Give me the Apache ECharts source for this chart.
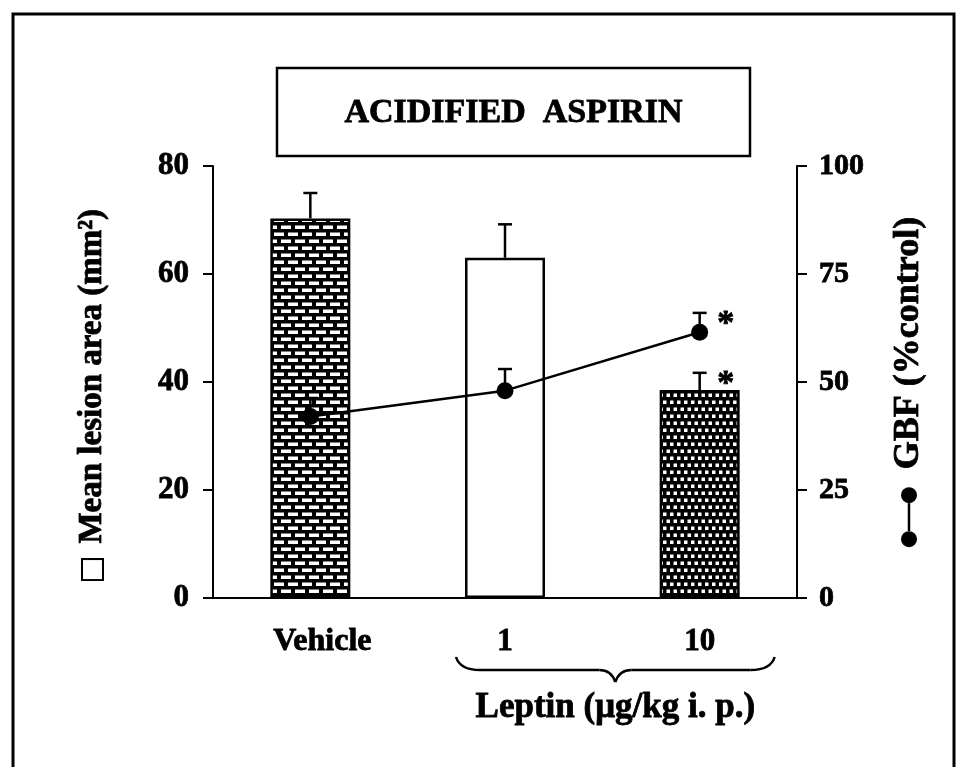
<!DOCTYPE html>
<html>
<head>
<meta charset="utf-8">
<script src="https://cdn.jsdelivr.net/npm/echarts@6/dist/echarts.min.js"></script>
<style>html,body{margin:0;padding:0;background:#fff;}#c{width:957px;height:767px;}</style>
</head>
<body>
<div id="c"></div>
<script>
const categories = ['Vehicle', '1', '10'];
const lesionArea = [70.3, 63.0, 38.5];
const lesionErr = [4.7, 6.2, 3.2];
const lesionSig = [false, false, true];
const gbf = [42, 48, 61.5];
const gbfErr = [4.3, 5, 4.5];
const gbfSig = [false, false, true];
const leftRange = {min: 0, max: 80, interval: 20};
const rightRange = {min: 0, max: 100, interval: 25};
const titleText = 'ACIDIFIED  ASPIRIN';
const groupLabel = 'Leptin (\u03bcg/kg i. p.)';

const FONT = '"Liberation Serif", "Times New Roman", serif';
const BOLDEN = {textBorderColor: '#000', textBorderWidth: 0.8};

function makeBrick() {
  const c = document.createElement('canvas'); c.width = 14; c.height = 14;
  const g = c.getContext('2d');
  g.fillStyle = '#000'; g.fillRect(0, 0, 14, 14);
  g.fillStyle = '#fff';
  g.fillRect(1, 1.5, 10, 3.5);
  g.fillRect(8, 8.5, 6, 3.5); g.fillRect(0, 8.5, 4, 3.5);
  return c;
}
function makeDots() {
  const c = document.createElement('canvas'); c.width = 14; c.height = 14;
  const g = c.getContext('2d');
  g.fillStyle = '#000'; g.fillRect(0, 0, 14, 14);
  g.fillStyle = '#fff';
  g.fillRect(1.5, 1.5, 3.5, 3.5); g.fillRect(8.5, 1.5, 3.5, 3.5);
  g.fillRect(5, 8.5, 3.5, 3.5); g.fillRect(12, 8.5, 2, 3.5); g.fillRect(0, 8.5, 1.5, 3.5);
  return c;
}
const fills = [
  {image: makeBrick(), repeat: 'repeat'},
  '#fff',
  {image: makeDots(), repeat: 'repeat'}
];

function errRender(sigArr) {
  return function (params, api) {
    const i = api.value(0), v = api.value(1), e = api.value(2);
    const p0 = api.coord([i, v]);
    const p1 = api.coord([i, v + e]);
    const hw = 7;
    const st = {stroke: '#000', lineWidth: 2.5};
    const children = [
      {type: 'line', shape: {x1: p0[0], y1: p0[1], x2: p1[0], y2: p1[1]}, style: st},
      {type: 'line', shape: {x1: p1[0] - hw, y1: p1[1], x2: p1[0] + hw, y2: p1[1]}, style: st}
    ];
    if (sigArr[params.dataIndex]) {
      children.push({type: 'text', style: {text: '*', x: p1[0] + 26, y: p1[1] - 6, align: 'center', verticalAlign: 'top',
        font: 'bold 34px ' + FONT, fill: '#000', stroke: '#000', lineWidth: 0.8}});
    }
    return {type: 'group', children};
  };
}

const chart = echarts.init(document.getElementById('c'), null, {renderer: 'canvas'});
const axisLineStyle = {color: '#000', width: 2};
chart.setOption({
  animation: false,
  backgroundColor: '#fff',
  grid: {left: 213, right: 160, top: 166, bottom: 169},
  xAxis: {
    type: 'category', data: categories, boundaryGap: true,
    axisLine: {lineStyle: axisLineStyle}, axisTick: {show: false},
    axisLabel: Object.assign({color: '#000', fontFamily: FONT, fontWeight: 'bold', fontSize: 31, margin: 28,
      formatter: v => v === 'Vehicle' ? '{v|' + v + '}' : v,
      rich: {v: Object.assign({fontFamily: FONT, fontWeight: 'bold', fontSize: 32, color: '#000', padding: [0, 0, 0, 24]}, BOLDEN)}}, BOLDEN)
  },
  yAxis: [
    {
      type: 'value', min: leftRange.min, max: leftRange.max, interval: leftRange.interval, position: 'left',
      axisLine: {show: true, lineStyle: axisLineStyle},
      axisTick: {show: true, inside: false, length: 10, lineStyle: axisLineStyle},
      splitLine: {show: false},
      axisLabel: Object.assign({color: '#000', fontFamily: FONT, fontWeight: 'bold', fontSize: 31, margin: 24}, BOLDEN),
      name: '{box|}  Mean lesion area (mm\u00b2){gap|}', nameLocation: 'middle', nameRotate: 90, nameGap: 104,
      nameTextStyle: Object.assign({color: '#000', fontFamily: FONT, fontWeight: 'bold', fontSize: 33,
        rich: {
          box: {width: 19, height: 19, borderColor: '#000', borderWidth: 2, backgroundColor: '#fff'},
          gap: {width: 24, height: 2}
        }}, BOLDEN)
    },
    {
      type: 'value', min: rightRange.min, max: rightRange.max, interval: rightRange.interval, position: 'right',
      axisLine: {show: true, lineStyle: axisLineStyle},
      axisTick: {show: true, inside: false, length: 10, lineStyle: axisLineStyle},
      splitLine: {show: false},
      axisLabel: Object.assign({color: '#000', fontFamily: FONT, fontWeight: 'bold', fontSize: 30, margin: 22}, BOLDEN),
      name: '{dot|}{ln|}{dot|}  GBF (%control)', nameLocation: 'middle', nameRotate: 90, nameGap: 94,
      nameTextStyle: Object.assign({color: '#000', fontFamily: FONT, fontWeight: 'bold', fontSize: 36,
        rich: {
          dot: {width: 16, height: 16, borderRadius: 8, backgroundColor: '#000'},
          ln: {width: 28, height: 2.5, backgroundColor: '#000'}
        }}, BOLDEN)
    }
  ],
  series: [
    {
      type: 'bar', name: 'lesion', yAxisIndex: 0, barWidth: 80,
      data: lesionArea.map((v, i) => ({value: v, itemStyle: {color: fills[i]}})),
      itemStyle: {borderColor: '#000', borderWidth: 2.5}, z: 2
    },
    {
      type: 'custom', name: 'lesionErr', yAxisIndex: 0, z: 3,
      renderItem: errRender(lesionSig),
      data: lesionArea.map((v, i) => [i, v, lesionErr[i]])
    },
    {
      type: 'custom', name: 'gbfErr', yAxisIndex: 1, z: 4,
      renderItem: errRender(gbfSig),
      data: gbf.map((v, i) => [i, v, gbfErr[i]])
    },
    {
      type: 'line', name: 'GBF', yAxisIndex: 1, data: gbf, z: 5,
      symbol: 'circle', symbolSize: 17,
      lineStyle: {color: '#000', width: 2.5},
      itemStyle: {color: '#000'}
    }
  ]
});

// decorations positioned from the chart's own axes
const c1 = chart.convertToPixel({xAxisIndex: 0}, 1);
const c2 = chart.convertToPixel({xAxisIndex: 0}, 2);
const yBase = chart.convertToPixel({yAxisIndex: 0}, 0);
const bx1 = c1 - 49, bx2 = c2 + 75, bm = (bx1 + bx2) / 2;
const by0 = yBase + 59, by1 = yBase + 72, by2 = yBase + 84;
const braceStyle = {fill: 'none', stroke: '#000', lineWidth: 2.5};
chart.setOption({
  graphic: [
    {type: 'rect', shape: {x: 13, y: 14, width: 941, height: 800}, style: {fill: 'none', stroke: '#000', lineWidth: 3}, silent: true},
    {type: 'rect', shape: {x: 277, y: 68, width: 473, height: 88}, style: {fill: '#fff', stroke: '#000', lineWidth: 2.5}},
    {type: 'text', x: 513.5, y: 113, style: {text: titleText, font: 'bold 34px ' + FONT, fill: '#000', stroke: '#000', lineWidth: 0.8, align: 'center', verticalAlign: 'middle'}},
    {type: 'bezierCurve', shape: {x1: bx1, y1: by0, cpx1: bx1 + 4, cpy1: by1, x2: bx1 + 24, y2: by1}, style: braceStyle},
    {type: 'line', shape: {x1: bx1 + 24, y1: by1, x2: bm - 16, y2: by1}, style: braceStyle},
    {type: 'bezierCurve', shape: {x1: bm - 16, y1: by1, cpx1: bm - 4, cpy1: by1, x2: bm, y2: by2}, style: braceStyle},
    {type: 'bezierCurve', shape: {x1: bm, y1: by2, cpx1: bm + 4, cpy1: by1, x2: bm + 16, y2: by1}, style: braceStyle},
    {type: 'line', shape: {x1: bm + 16, y1: by1, x2: bx2 - 24, y2: by1}, style: braceStyle},
    {type: 'bezierCurve', shape: {x1: bx2 - 24, y1: by1, cpx1: bx2 - 4, cpy1: by1, x2: bx2, y2: by0}, style: braceStyle},
    {type: 'text', x: bm, y: yBase + 110, style: {text: groupLabel, font: 'bold 35px ' + FONT, fill: '#000', stroke: '#000', lineWidth: 0.8, align: 'center', verticalAlign: 'middle'}}
  ]
});
</script>
</body>
</html>
